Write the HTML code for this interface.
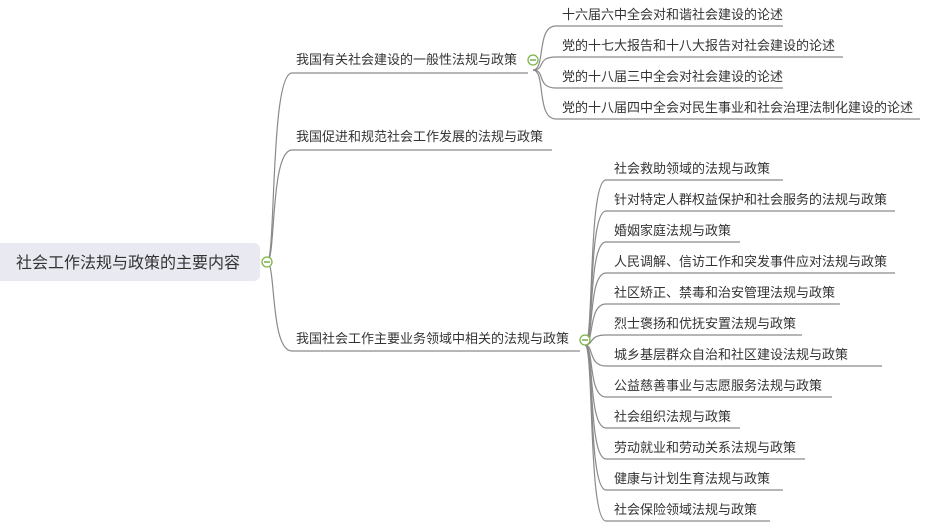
<!DOCTYPE html>
<html><head><meta charset="utf-8"><style>
html,body{margin:0;padding:0;background:#fff;width:927px;height:528px;overflow:hidden}
svg text{font-family:"Liberation Sans","Noto Sans CJK SC",sans-serif;fill:#333}
</style></head><body>
<svg width="927" height="528" xmlns="http://www.w3.org/2000/svg">
<rect x="-10" y="243" width="270" height="38" rx="6" fill="#e8e9f1"/>
<text x="16" y="268" font-size="16">社会工作法规与政策的主要内容</text>
<g fill="none" stroke="#8a8a8a" stroke-width="1.2">
<path d="M267 262 C276 262 270 73 292 73 L528 73"/>
<path d="M267 262 C276 262 270 150 292 150 L552 150"/>
<path d="M267 262 C276 262 270 351 292 351 L580 351"/>
<path d="M533 70 C546 70 536 26 556 26 L783 26"/>
<path d="M533 70 C546 70 536 57 556 57 L843 57"/>
<path d="M533 70 C546 70 536 88 556 88 L783 88"/>
<path d="M533 70 C546 70 536 119 556 119 L920 119"/>
<path d="M585 345 C594 345 588 180 606 180 L783 180"/>
<path d="M585 345 C594 345 588 211 606 211 L895 211"/>
<path d="M585 345 C594 345 588 242 606 242 L740 242"/>
<path d="M585 345 C594 345 588 273 606 273 L895 273"/>
<path d="M585 345 C594 345 588 304 606 304 L840 304"/>
<path d="M585 345 C594 345 588 335 606 335 L802 335"/>
<path d="M585 345 C594 345 588 366 606 366 L882 366"/>
<path d="M585 345 C594 345 588 397 606 397 L832 397"/>
<path d="M585 345 C594 345 588 428 606 428 L740 428"/>
<path d="M585 345 C594 345 588 459 606 459 L805 459"/>
<path d="M585 345 C594 345 588 490 606 490 L783 490"/>
<path d="M585 345 C594 345 588 521 606 521 L770 521"/>
</g>
<g font-size="13">
<text x="296" y="64">我国有关社会建设的一般性法规与政策</text>
<text x="296" y="141">我国促进和规范社会工作发展的法规与政策</text>
<text x="296" y="343">我国社会工作主要业务领域中相关的法规与政策</text>
<text x="562" y="19">十六届六中全会对和谐社会建设的论述</text>
<text x="562" y="50">党的十七大报告和十八大报告对社会建设的论述</text>
<text x="562" y="81">党的十八届三中全会对社会建设的论述</text>
<text x="562" y="112">党的十八届四中全会对民生事业和社会治理法制化建设的论述</text>
<text x="614" y="173">社会救助领域的法规与政策</text>
<text x="614" y="204">针对特定人群权益保护和社会服务的法规与政策</text>
<text x="614" y="235">婚姻家庭法规与政策</text>
<text x="614" y="266">人民调解、信访工作和突发事件应对法规与政策</text>
<text x="614" y="297">社区矫正、禁毒和治安管理法规与政策</text>
<text x="614" y="328">烈士褒扬和优抚安置法规与政策</text>
<text x="614" y="359">城乡基层群众自治和社区建设法规与政策</text>
<text x="614" y="390">公益慈善事业与志愿服务法规与政策</text>
<text x="614" y="421">社会组织法规与政策</text>
<text x="614" y="452">劳动就业和劳动关系法规与政策</text>
<text x="614" y="483">健康与计划生育法规与政策</text>
<text x="614" y="514">社会保险领域法规与政策</text>
</g>
<g fill="#fff" stroke="#7ab648" stroke-width="1.3">
<circle cx="267" cy="262" r="5"/><circle cx="533" cy="60" r="5"/><circle cx="585" cy="340" r="5"/>
</g>
<g stroke="#5a9a2a" stroke-width="1.2">
<line x1="264" y1="262" x2="270" y2="262"/><line x1="530" y1="60" x2="536" y2="60"/><line x1="582" y1="340" x2="588" y2="340"/>
</g>
</svg>
</body></html>
